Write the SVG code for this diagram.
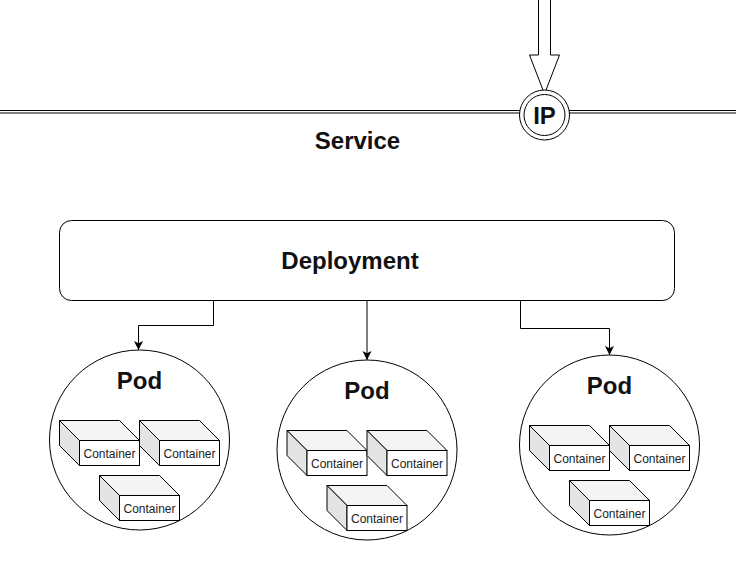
<svg xmlns="http://www.w3.org/2000/svg" width="736" height="567" viewBox="0 0 736 567">
<style>
text{font-family:"Liberation Sans",Arial,sans-serif;fill:#111;text-anchor:middle}
.t{font-weight:bold;font-size:24px}
.c{font-size:12px;fill:#222}
.s{fill:#fff;stroke:#000;stroke-width:1}
.top{fill:#f4f4f4;stroke:#000;stroke-width:1;stroke-linejoin:round}
.side{fill:#e4e4e4;stroke:#000;stroke-width:1;stroke-linejoin:round}
.l{fill:none;stroke:#000;stroke-width:1}
</style>
<defs>
<marker id="a" markerUnits="userSpaceOnUse" markerWidth="12" markerHeight="12" refX="9" refY="5" orient="auto"><path d="M0 0.500L9 5L0 9.500L2.200 5Z" fill="#000"/></marker>
<g id="box">
<path class="top" d="M0 0H60L80 20H20Z"/>
<path class="side" d="M0 0L20 20V45L0 25Z"/>
<rect class="s" x="20" y="20" width="60" height="25"/>
<text class="c" x="50" y="37">Container</text>
</g>
<g id="pod">
<circle class="s" cx="0" cy="0" r="90"/>
<text class="t" x="0" y="-51">Pod</text>
<use href="#box" x="-80" y="-19.5"/>
<use href="#box" x="0" y="-19.5"/>
<use href="#box" x="-40" y="35.5"/>
</g>
</defs>
<rect width="736" height="567" fill="#fff"/>
<g id="connectors">
<path class="l" d="M0 110.500H521M0 113H521M568 110.500H736M568 113H736"/>
<path class="s" d="M538.500 0V55H529.500L544.500 94L559.500 55H550.500V0"/>
<path class="l" marker-end="url(#a)" d="M213.500 300.500V325.500H138.500V350"/>
<path class="l" marker-end="url(#a)" d="M367 300.500V360"/>
<path class="l" marker-end="url(#a)" d="M520.500 300.500V328.500H609.500V355"/>
</g>
<g id="service">
<text class="t" x="357.500" y="149">Service</text>
</g>
<g id="ip">
<circle class="s" cx="544.500" cy="115" r="25"/>
<circle class="s" cx="544.500" cy="115" r="20.500"/>
<text class="t" x="544.500" y="124">IP</text>
</g>
<g id="deployment">
<rect class="s" x="59.500" y="220.500" width="615" height="80" rx="12" ry="12"/>
<text class="t" x="350" y="269">Deployment</text>
</g>
<g id="pod1"><use href="#pod" x="139.500" y="440"/></g>
<g id="pod2"><use href="#pod" x="367" y="450"/></g>
<g id="pod3"><use href="#pod" x="609.500" y="445"/></g>
</svg>
